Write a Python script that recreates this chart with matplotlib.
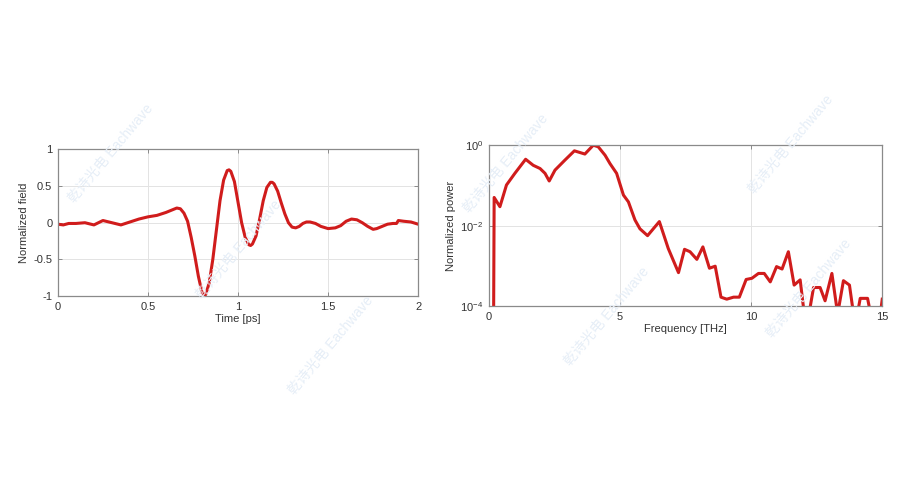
import numpy as np
import matplotlib
matplotlib.use("Agg")
import matplotlib.pyplot as plt

plt.rcParams['font.family'] = ['Liberation Sans', 'Noto Sans CJK SC', 'DejaVu Sans']
plt.rcParams['mathtext.fontset'] = 'custom'
plt.rcParams['mathtext.rm'] = 'Liberation Sans'

# Time-domain pulse
t_ps = [0.0, 0.03, 0.06, 0.1, 0.15, 0.2, 0.25, 0.3, 0.35, 0.4, 0.45, 0.5,
        0.55, 0.6, 0.63, 0.66, 0.68, 0.70, 0.72, 0.74, 0.76, 0.78, 0.80,
        0.81, 0.82, 0.84, 0.86, 0.88, 0.90, 0.92, 0.94, 0.95, 0.96, 0.98,
        1.00, 1.02, 1.04, 1.06, 1.07, 1.08, 1.10, 1.12, 1.14, 1.16, 1.18,
        1.19, 1.20, 1.22, 1.24, 1.26, 1.28, 1.30, 1.32, 1.34, 1.36, 1.38,
        1.40, 1.43, 1.46, 1.50, 1.54, 1.57, 1.60, 1.63, 1.66, 1.69, 1.72,
        1.75, 1.77, 1.80, 1.83, 1.86, 1.88, 1.89, 1.92, 1.96, 2.0]
field = [-0.02, -0.03, -0.01, -0.01, 0.0, -0.03, 0.03, 0.0, -0.03, 0.01,
         0.05, 0.08, 0.1, 0.14, 0.17, 0.2, 0.19, 0.13, 0.02, -0.2, -0.45,
         -0.73, -0.95, -1.0, -0.98, -0.82, -0.5, -0.1, 0.3, 0.58, 0.71, 0.72,
         0.7, 0.56, 0.28, 0.0, -0.2, -0.3, -0.31, -0.29, -0.18, 0.05, 0.3,
         0.48, 0.55, 0.55, 0.53, 0.43, 0.27, 0.12, 0.0, -0.06, -0.07, -0.05,
         -0.01, 0.01, 0.01, -0.01, -0.05, -0.08, -0.07, -0.04, 0.02, 0.05,
         0.04, 0.0, -0.05, -0.09, -0.08, -0.05, -0.02, -0.01, -0.01, 0.03,
         0.02, 0.01, -0.02]

# Spectrum (log10 of normalized power)
f_thz = [0.0, 0.2, 0.42, 0.67, 0.99, 1.40, 1.69, 1.95, 2.14, 2.30, 2.52, 2.90,
         3.26, 3.66, 3.98, 4.17, 4.43, 4.62, 4.87, 5.13, 5.32, 5.57, 5.76,
         6.05, 6.50, 6.84, 7.23, 7.46, 7.67, 7.93, 8.16, 8.41, 8.63, 8.85,
         9.07, 9.33, 9.55, 9.81, 10.03, 10.28, 10.5, 10.73, 10.97, 11.18,
         11.42, 11.64, 11.87, 12.1, 12.38, 12.63, 12.82, 13.08, 13.3, 13.52,
         13.75, 13.97, 14.16, 14.44, 14.65, 14.87, 15.0]
log_power = [-30, -1.30, -1.53, -0.99, -0.70, -0.35, -0.50, -0.58, -0.70,
             -0.89, -0.62, -0.37, -0.14, -0.22, 0.0, -0.04, -0.25, -0.46,
             -0.70, -1.24, -1.41, -1.86, -2.08, -2.25, -1.90, -2.57, -3.17,
             -2.59, -2.65, -2.84, -2.53, -3.06, -3.01, -3.78, -3.83, -3.78,
             -3.78, -3.34, -3.31, -3.19, -3.19, -3.40, -3.02, -3.08, -2.65,
             -3.48, -3.35, -4.6, -3.54, -3.54, -3.87, -3.19, -4.2, -3.37,
             -3.48, -4.5, -3.81, -3.81, -4.5, -4.5, -3.83]

red = '#d01c1c'
box = '#8a8a8a'
txt = '#333333'

fig = plt.figure(figsize=(9.19, 4.8), dpi=100)

def style(ax):
    for s in ax.spines.values():
        s.set_color(box)
        s.set_linewidth(0.9)
    ax.tick_params(direction='in', length=3, width=0.7, color=box,
                   labelsize=8, labelcolor=txt, top=True, right=True, pad=4)
    ax.grid(True, color='#e3e3e3', linewidth=0.7)
    ax.set_axisbelow(True)

# left: time trace
ax1 = fig.add_axes([0.063, 0.383, 0.392, 0.306])
ax1.plot(t_ps, field, color=red, lw=2.2, solid_joinstyle='round')
ax1.set_xlim(0, 2)
ax1.set_ylim(-1, 1)
ax1.set_xticks([0, 0.5, 1, 1.5, 2])
ax1.set_xticklabels(['0', '0.5', '1', '1.5', '2'])
ax1.set_yticks([-1, -0.5, 0, 0.5, 1])
ax1.set_yticklabels(['-1', '-0.5', '0', '0.5', '1'])
ax1.set_xlabel('Time [ps]', fontsize=8, color=txt, labelpad=2)
ax1.set_ylabel('Normalized field', fontsize=8, color=txt, labelpad=3)
style(ax1)

# right: spectrum
ax2 = fig.add_axes([0.532, 0.3625, 0.428, 0.335])
ax2.semilogy(f_thz, 10.0 ** np.array(log_power), color=red, lw=2.2,
             solid_joinstyle='round')
ax2.set_xlim(0, 15)
ax2.set_ylim(1e-4, 1)
ax2.set_xticks([0, 5, 10, 15])
ax2.set_yticks([1e-4, 1e-2, 1])
ax2.set_yticklabels([r'$10^{-4}$', r'$10^{-2}$', r'$10^{0}$'])
ax2.minorticks_off()
ax2.set_xlabel('Frequency [THz]', fontsize=8, color=txt, labelpad=2)
ax2.set_ylabel('Normalized power', fontsize=8, color=txt, labelpad=3)
style(ax2)

# faint watermarks
marks = [(0.12, 0.68), (0.26, 0.48), (0.36, 0.28), (0.55, 0.66),
         (0.66, 0.34), (0.86, 0.70), (0.88, 0.40)]
for x, y in marks:
    fig.text(x, y, '乾诗光电 Eachwave', fontsize=10, color='#e6eef7',
             rotation=50, ha='center', va='center', zorder=0)

fig.savefig('out.png', dpi=100)
